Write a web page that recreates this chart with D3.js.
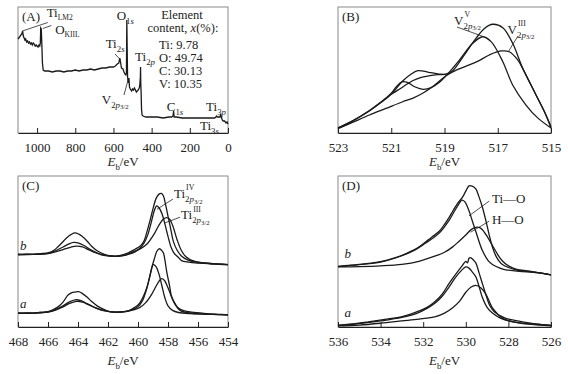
<!DOCTYPE html>
<html>
<head>
<meta charset="utf-8">
<title>XPS spectra</title>
<script src="https://d3js.org/d3.v7.min.js"></script>
<style>
  body { margin: 0; background: #fff; }
</style>
</head>
<body>
<div id="chart"></div>
<script>
// ---- data: [binding energy eV, intensity a.u.] ----
// (A) survey spectrum
const surveyA = [[1100,96],[1092,98],[1085,100],[1080,101],[1076,104],[1072,99],[1068,97],[1064,95],[1060,96],[1055,93],[1050,94],[1045,92],[1040,93],[1035,91],[1030,92],[1025,90],[1020,92],[1015,91],[1010,89],[1005,90],[1000,89],[995,88],[990,90],[986,89],[983,92],[981,107],[978,106],[975,90],[972,72],[968,65],[960,64],[940,64],[920,63],[900,64],[880,64],[860,63],[840,64],[820,64],[800,65],[780,64],[760,65],[740,65],[720,66],[700,65],[680,66],[660,67],[640,67],[620,68],[600,68],[590,69],[580,71],[572,72],[567,77],[563,73],[558,67],[550,66],[545,63],[540,61],[535,60],[532,62],[530,115],[528,85],[526,58],[522,52],[519,57],[516,48],[512,46],[505,44],[500,46],[495,45],[490,47],[485,45],[480,43],[475,44],[470,45],[465,47],[462,50],[459,58],[458,68],[457,52],[455,42],[453,26],[450,20],[445,19],[430,18],[400,18],[370,18],[340,17],[310,18],[295,18],[288,19],[285,24],[282,18],[270,18],[240,17],[200,17],[160,17],[120,17],[90,17],[70,17],[64,18],[60,19],[56,18],[48,18],[42,18],[38,21],[35,18],[30,15],[25,14],[18,14],[10,12],[5,13],[0,11]];

// (B) V 2p3/2
const envB = [[523,4],[522.5,9],[521.82,17.5],[521.4,24],[521.0,30.7],[520.57,41.3],[520.3,46],[520.0,49.5],[519.6,48.2],[519.2,46.8],[518.95,46.8],[518.69,49.5],[518.26,61.9],[517.82,75.1],[517.5,83],[517.19,86.3],[516.81,83.6],[516.44,71.2],[516.06,51.3],[515.56,30.2],[515.25,17],[515,5]];
const v5B = [[523,4],[522.5,9],[521.82,17.8],[521.4,24.3],[521.0,31.5],[520.8,37],[520.6,40.5],[520.4,40.2],[520.1,36.5],[519.8,34.7],[519.5,36],[519.2,40],[518.94,45.5],[518.44,57.9],[517.94,71.2],[517.57,76.4],[517.25,72.5],[516.81,56.6],[516.44,38.1],[515.94,22.2],[515.5,12],[515,4]];
const v3B = [[523,3.5],[522.5,8],[521.82,14.3],[521.2,19.5],[520.57,24.8],[520.2,27.5],[519.82,31.5],[519.4,37.5],[518.94,45.5],[518.5,50.5],[518.07,54],[517.7,57.5],[517.32,61.9],[516.88,65.1],[516.57,64.5],[516.25,58],[516.06,51],[515.56,30],[515.25,17],[515,4]];
const shoulderB = [[521.0,30.7],[520.75,34],[520.5,37.5],[520.2,41.5],[519.9,44],[519.6,45.3],[519.25,46.3],[518.95,46.6]];

// (C) Ti 2p, samples b (upper) and a (lower)
const rawCb = [[468,48],[467.5,48.3],[467,48.1],[466.5,48.6],[466,49.1],[465.6,50.8],[465.3,53.5],[465,56.5],[464.75,59.1],[464.45,61.3],[464.2,62.3],[463.95,61.5],[463.75,60.2],[463.4,57],[463.09,53.5],[462.7,50.3],[462.2,48],[461.9,47.2],[461.53,46.9],[461.1,47.6],[460.65,49.1],[460.2,51.5],[459.87,53.5],[459.6,57],[459.42,62.5],[459.2,70.5],[458.98,79.1],[458.8,85],[458.6,88],[458.45,88.5],[458.31,86.9],[458.15,80.5],[457.98,72.5],[457.8,64],[457.65,56.9],[457.4,51],[457.09,46.9],[456.7,44.5],[456.2,43.1],[455.5,42.4],[454.87,41.8],[454.4,41.6],[454,41.3]];
const ti4Cb = [[468,48],[467,48.1],[466,48.8],[465.5,50.5],[465,53],[464.6,55],[464.3,56],[464,55.7],[463.6,54],[463.2,51.5],[462.7,49],[462.3,47.8],[461.5,46.8],[461,47.3],[460.6,48.5],[460.2,50.3],[459.9,52],[459.6,55.5],[459.35,61],[459.1,70],[458.9,77.5],[458.76,80.2],[458.6,79],[458.4,75],[458.2,68],[458.0,60],[457.8,53],[457.6,49],[457.3,46],[457.1,44],[456.6,43],[456.2,42.5],[455,41.8],[454,41.3]];
const ti3Cb = [[468,48],[467,48.1],[466,48.6],[465.5,49.7],[465,51.2],[464.5,52.8],[464.1,53.5],[463.7,53],[463.3,51.2],[462.8,49],[462.3,47.5],[461.5,46.8],[461,47.3],[460.6,48.3],[460.2,49.8],[459.9,51.5],[459.4,55],[458.9,62],[458.6,67.5],[458.3,71.5],[458.1,72.5],[457.9,71.5],[457.7,67.5],[457.4,58],[457.1,50.5],[456.8,46.5],[456.5,44.5],[455.8,42.6],[455,41.9],[454,41.3]];
const rawCa = [[468,9.1],[467.5,9.4],[467,9.2],[466.5,9.8],[466,10.2],[465.6,11.8],[465.31,13.5],[465,16.5],[464.65,21.3],[464.4,22.8],[464.2,23.1],[463.95,23.4],[463.75,22.4],[463.4,19.8],[463.09,16.9],[462.7,13.8],[462.2,11.3],[461.9,10.2],[461.53,9.8],[461.1,10.1],[460.65,10.7],[460.3,12.5],[459.98,14.7],[459.7,19],[459.42,25.8],[459.25,32],[459.09,39.1],[458.9,45.5],[458.76,49.8],[458.6,51.8],[458.45,51],[458.31,49.1],[458.2,44],[458.09,36.9],[457.9,27.5],[457.76,20.2],[457.5,15],[457.31,12.5],[456.9,10.6],[456.42,9.8],[455.6,9],[454.87,8.5],[454.4,8.3],[454,8]];
const ti4Ca = [[468,9.1],[467,9.2],[466,10],[465.5,11.5],[465,14],[464.6,16.5],[464.2,18],[463.8,17.5],[463.4,15.5],[462.9,13],[462.3,11],[461.5,9.8],[460.8,10.3],[460.3,11.8],[460,13.5],[459.7,17.5],[459.4,26],[459.15,36],[458.98,41.3],[458.8,40],[458.6,35],[458.4,27],[458.2,19],[458,14],[457.7,11],[457.3,9.6],[456.5,8.8],[455,8.3],[454,8]];
const ti3Ca = [[468,9.1],[467,9.2],[466,9.9],[465.5,11.2],[465,13.3],[464.6,15.5],[464.1,17],[463.7,16.5],[463.3,14.8],[462.8,12.5],[462.3,10.8],[461.5,9.8],[460.8,10.2],[460.3,11.3],[459.9,12.8],[459.5,16],[459.1,21.5],[458.8,27],[458.55,31],[458.42,32],[458.25,31],[458,26],[457.75,19.5],[457.5,14.5],[457.2,11],[456.8,9.6],[456,8.8],[455,8.3],[454,8]];

// (D) O 1s, samples b (upper) and a (lower)
const rawDb = [[536,40.2],[535.5,40.8],[535,41.5],[534.56,42.1],[534,43.3],[533.3,46],[532.9,48],[532.51,50.6],[532.2,53],[531.89,56.3],[531.6,59.5],[531.26,63.2],[531,68],[530.79,72.4],[530.6,77],[530.4,81.6],[530.16,85.8],[530.0,90],[529.85,93.5],[529.7,93.3],[529.53,91.5],[529.4,87],[529.22,79.3],[529.05,70],[528.9,60.9],[528.75,53],[528.59,47.1],[528.4,43],[528.28,41.4],[528,39.4],[527.65,37.9],[527.2,37],[526.7,36.1],[526.3,35.3],[526,34.5]];
const tioDb = [[536,40],[535,41.3],[534,43],[533.3,45.7],[532.5,50.2],[531.9,55.5],[531.26,62],[530.79,70.5],[530.5,77.5],[530.3,82],[530.19,84],[530.05,83],[529.85,77],[529.7,70.5],[529.53,63.2],[529.22,50.6],[528.95,44],[528.75,41.4],[528.4,39],[528.12,37.9],[527.5,36.8],[526.7,36],[526,34.5]];
const hoDb = [[536,39.8],[535,40],[534,40.5],[533,41.5],[532.2,43.5],[531.42,47.1],[531,49.5],[530.63,52.9],[530.3,57],[530.0,60.9],[529.75,64.5],[529.53,66],[529.35,65.8],[529.22,64.4],[529,60],[528.75,54],[528.5,48],[528.28,43.7],[528,40.5],[527.65,38.4],[527,37],[526,34.5]];
const rawDa = [[536,1.1],[535.3,2],[534.56,3.4],[533.8,5],[532.99,6.9],[532.5,9],[532.04,11.5],[531.7,14],[531.42,17.2],[531.1,22],[530.79,28.7],[530.55,33.5],[530.32,37.9],[530.15,41],[530.0,43.5],[529.92,42.5],[529.85,45.5],[529.78,46],[529.65,44.5],[529.53,42.5],[529.38,36],[529.22,28.7],[529.05,21],[528.9,14.9],[528.75,11.5],[528.59,9.2],[528.4,7.5],[528.12,5.7],[527.7,4.4],[527.33,3.4],[526.7,2],[526,1.1]];
const tioDa = [[536,1],[535,2.2],[534,4],[533,6.3],[532.3,9],[531.8,12.5],[531.42,16],[531.1,20.5],[530.79,26.4],[530.5,32.5],[530.2,37.5],[530.0,39.8],[529.85,39],[529.7,36.5],[529.53,33.3],[529.38,27],[529.22,19.5],[529.0,13],[528.75,9.2],[528.4,6],[527.96,3.9],[527.3,2.5],[526,1]];
const hoDa = [[536,0.7],[535,1.3],[534,2.5],[533,4],[532.2,5.2],[531.42,6.9],[531,9.2],[530.63,12.6],[530.3,17],[530.0,23],[529.75,26.5],[529.53,27.6],[529.3,26],[529.06,21.8],[528.9,17],[528.75,12.6],[528.5,8.5],[528.28,5.7],[527.8,3.5],[527.33,2.3],[526.5,1.3],[526,0.8]];

// tick values
const ticksA = [1000, 800, 600, 400, 200, 0];
const ticksB = [523, 521, 519, 517, 515];
const ticksC = [468, 466, 464, 462, 460, 458, 456, 454];
const ticksD = [536, 534, 532, 530, 528, 526];

// element content table in (A)
const contentA = ["Ti: 9.78", "O: 49.74", "C: 30.13", "V: 10.35"];

// ---- layout ----
const FONT = "'Liberation Serif', 'DejaVu Serif', serif";
const width = 568, height = 374;
const svg = d3.select("#chart").append("svg")
  .attr("width", width).attr("height", height)
  .style("font-family", FONT);

const panels = [
  { name: "A", left: 18, right: 228, top: 7, bottom: 133, x: [1100, 0], y: [2, 128],
    ticks: ticksA, curve: d3.curveLinear, series: [surveyA] },
  { name: "B", left: 338, right: 551, top: 7, bottom: 133, x: [523, 515], y: [0, 100],
    ticks: ticksB, curve: d3.curveCatmullRom, series: [envB, v5B, v3B, shoulderB] },
  { name: "C", left: 18, right: 228, top: 176, bottom: 327, x: [468, 454], y: [0, 100],
    ticks: ticksC, curve: d3.curveCatmullRom, series: [rawCb, ti4Cb, ti3Cb, rawCa, ti4Ca, ti3Ca] },
  { name: "D", left: 338, right: 551, top: 176, bottom: 327, x: [536, 526], y: [0, 100],
    ticks: ticksD, curve: d3.curveCatmullRom, series: [rawDb, tioDb, hoDb, rawDa, tioDa, hoDa] }
];

// text with sub/superscripts; kinds: "" normal, "i" italic, "s" sub, "si" sub italic,
// "sc" small sub, "ss" second-level sub
function rich(g, x, y, parts, size, anchor) {
  const t = g.append("text").attr("x", x).attr("y", y)
    .style("font-family", FONT).style("fill", "#222")
    .attr("font-size", size).attr("text-anchor", anchor || "start");
  let shift = 0;
  parts.forEach(([str, kind]) => {
    let target = 0, fs = size;
    if (kind === "s" || kind === "si") { target = size * 0.28; fs = size * 0.68; }
    if (kind === "sc") { target = size * 0.25; fs = size * 0.58; }
    if (kind === "ss") { target = size * 0.42; fs = size * 0.52; }
    t.append("tspan").attr("dy", target - shift).attr("font-size", fs)
      .attr("font-style", (kind === "i" || kind === "si") ? "italic" : null)
      .text(str);
    shift = target;
  });
  return t;
}

// main letter with stacked superscript and subscript
function stacked(g, x, y, main, sup, subParts, size) {
  const m = rich(g, x, y, [[main, ""]], size);
  const w = m.node().getComputedTextLength();
  if (sup) rich(g, x + w + 1, y - size * 0.6, [[sup, ""]], size * 0.6);
  rich(g, x + w, y, subParts, size);
}

const p2 = [["2", "s"], ["p", "si"], ["3/2", "ss"]];

panels.forEach(p => {
  const xs = d3.scaleLinear().domain(p.x).range([p.left, p.right]);
  const ys = d3.scaleLinear().domain(p.y).range([p.bottom, p.top]);
  p.xs = xs; p.ys = ys;
  const g = svg.append("g");

  // frame
  g.append("rect").attr("x", p.left).attr("y", p.top)
    .attr("width", p.right - p.left).attr("height", p.bottom - p.top)
    .attr("fill", "none").attr("stroke", "#8a8a8a").attr("stroke-width", 1);

  // bottom axis with inward ticks
  const ax = g.append("g").attr("transform", `translate(0,${p.bottom})`)
    .call(d3.axisBottom(xs).tickValues(p.ticks).tickFormat(d3.format("d"))
      .tickSizeInner(-5).tickSizeOuter(0).tickPadding(10));
  ax.attr("font-family", null);
  ax.select(".domain").attr("stroke", "#222");
  ax.selectAll(".tick line").attr("stroke", "#222");
  ax.selectAll(".tick text").attr("font-size", 13)
    .style("font-family", FONT).style("fill", "#222");

  // axis title
  rich(g, (p.left + p.right) / 2, p.bottom + (p.top < 100 ? 33 : 38),
    [["E", "i"], ["b", "s"], ["/eV", ""]], 13, "middle");

  // curves
  const line = d3.line().x(d => xs(d[0])).y(d => ys(d[1])).curve(p.curve);
  g.selectAll("path.curve").data(p.series).enter().append("path")
    .attr("class", "curve")
    .attr("d", line)
    .attr("fill", "none")
    .attr("stroke", "#1a1a1a")
    .attr("stroke-width", 1.3);

  // panel letter
  rich(g, xs(p.x[0]) + 4, p.top + 14, [["(" + p.name + ")", ""]], 13);
});

// leader lines, in data units of each panel
function leader(p, a, b) {
  svg.append("line")
    .attr("x1", p.xs(a[0])).attr("y1", p.ys(a[1]))
    .attr("x2", p.xs(b[0])).attr("y2", p.ys(b[1]))
    .attr("stroke", "#222").attr("stroke-width", 0.8);
}
function at(p, e, v) { return [p.xs(e), p.ys(v)]; }

// (A) annotations
const pA = panels[0];
let q;
q = at(pA, 950, 118.5); rich(svg, q[0], q[1], [["Ti", ""], ["LM2", "sc"]], 13);
leader(pA, [1077, 104], [944, 112.5]);
q = at(pA, 905, 101); rich(svg, q[0], q[1], [["O", ""], ["KIIL", "sc"]], 13);
leader(pA, [970, 106.5], [925, 109.5]);
q = at(pA, 583, 115); rich(svg, q[0], q[1], [["O", ""], ["1", "s"], ["s", "si"]], 13);
q = at(pA, 241, 116); rich(svg, q[0], q[1], [["Element", ""]], 12.5, "middle");
q = at(pA, 236, 103); rich(svg, q[0], q[1], [["content, ", ""], ["x", "i"], ["(%):", ""]], 12.5, "middle");
contentA.forEach((s, i) => {
  q = at(pA, 361, 86 - i * 13);
  rich(svg, q[0], q[1], [[s, ""]], 12.5);
});
q = at(pA, 641, 87); rich(svg, q[0], q[1], [["Ti", ""], ["2", "s"], ["s", "si"]], 13);
leader(pA, [592, 81], [562, 75]);
q = at(pA, 487, 74); rich(svg, q[0], q[1], [["Ti", ""], ["2", "s"], ["p", "si"]], 13);
q = at(pA, 661, 31); stacked(svg, q[0], q[1], "V", "", p2, 13);
leader(pA, [545, 40], [522, 56]);
q = at(pA, 321, 24); rich(svg, q[0], q[1], [["C", ""], ["1", "s"], ["s", "si"]], 13);
q = at(pA, 115, 24); rich(svg, q[0], q[1], [["Ti", ""], ["3", "s"], ["p", "si"]], 13);
q = at(pA, 147, 5); rich(svg, q[0], q[1], [["Ti", ""], ["3", "s"], ["s", "si"]], 13);

// (B) annotations
const pB = panels[1];
q = at(pB, 518.64, 85.7); stacked(svg, q[0], q[1], "V", "V", p2, 13);
leader(pB, [518.53, 84.1], [517.55, 76.6]);
q = at(pB, 516.63, 78.6); stacked(svg, q[0], q[1], "V", "III", p2, 13);
leader(pB, [516.24, 77], [516.61, 64.3]);

// (C) annotations
const pC = panels[2];
q = at(pC, 467.87, 50.7); rich(svg, q[0], q[1], [["b", "i"]], 13);
q = at(pC, 467.87, 12.7); rich(svg, q[0], q[1], [["a", "i"]], 13);
q = at(pC, 457.6, 85.3); stacked(svg, q[0], q[1], "Ti", "IV", p2, 13);
leader(pC, [457.67, 84.7], [458.73, 78]);
q = at(pC, 457.13, 71.3); stacked(svg, q[0], q[1], "Ti", "III", p2, 13);
leader(pC, [457.2, 72.7], [458.27, 68.7]);

// (D) annotations
const pD = panels[3];
q = at(pD, 535.7, 45.5); rich(svg, q[0], q[1], [["b", "i"]], 13);
q = at(pD, 535.7, 6.5); rich(svg, q[0], q[1], [["a", "i"]], 13);
q = at(pD, 528.77, 82); rich(svg, q[0], q[1], [["Ti\u2014O", ""]], 13);
leader(pD, [528.9, 83.4], [529.85, 73.6]);
q = at(pD, 528.77, 68.3); rich(svg, q[0], q[1], [["H\u2014O", ""]], 13);
leader(pD, [528.9, 70.1], [529.77, 62.8]);
</script>
</body>
</html>
